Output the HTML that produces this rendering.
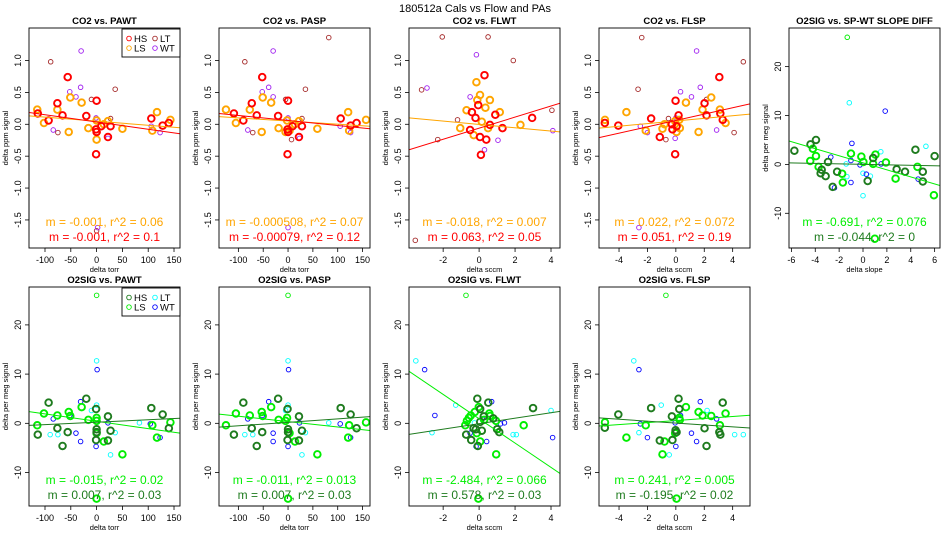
<!DOCTYPE html>
<html><head><meta charset="utf-8">
<style>
html,body{margin:0;padding:0;background:#fff;}
svg{display:block;font-family:"Liberation Sans",sans-serif;}
</style></head>
<body>
<svg id="chart" width="950" height="550" viewBox="0 0 950 550" xmlns="http://www.w3.org/2000/svg">
<text x="475" y="12" text-anchor="middle" font-size="11">180512a   Cals vs Flow and PAs</text>
</svg>
<script>
// ---- Panel 1: CO2 vs PAWT ----
const p1HSx=[-114,-93,-76,-66,-56,-20,-1,0,-1,9,22,27,106,128,140,0];
const p1HSy=[0.17,0.06,0.33,0.14,0.74,0.13,-0.08,0.37,-0.47,-0.03,-0.2,-0.03,0.09,-0.02,0.02,-0.12];
const p1LSx=[-115,-102,-76,-54,-51,-29,-16,0,0,14,22,50,108,117,143,0];
const p1LSy=[0.23,0.02,0.23,-0.12,0.42,0.34,-0.06,0.06,-0.12,0,0.05,-0.07,-0.1,0.19,0.07,-0.24];
const p1LTx=[-89,-75,-10,36,27,0];
const p1LTy=[0.98,-0.13,0.39,0.55,0.09,-1.67];
const p1WTx=[-30,-52,-31,-40,-84,-1,22,106,123,2];
const p1WTy=[1.15,0.51,0.58,0.43,-0.09,0.1,-0.22,-0.03,-0.13,-1.62];
const p1Fit1=[0.049,-0.00064];
const p1Fit2=[0.036,-0.00114];
// ---- Panel 2: CO2 vs PASP ----
const p2HSx=[-109,-90,-73,-63,-52,-20,-1,0,-1,9,22,28,106,126,138,0];
const p2HSy=[0.17,0.06,0.33,0.14,0.74,0.13,-0.08,0.37,-0.47,-0.03,-0.2,-0.03,0.09,-0.02,0.02,-0.12];
const p2LSx=[-125,-105,-77,-53,-51,-34,-19,-2,-5,14,22,59,123,121,157,3];
const p2LSy=[0.23,0.02,0.23,-0.12,0.42,0.34,-0.06,0.06,-0.12,0,0.05,-0.07,-0.1,0.19,0.07,-0.1];
const p2LTx=[-87,-71,-5,35,28,82,7];
const p2LTy=[0.98,-0.13,0.39,0.55,0.09,1.36,-0.24];
const p2WTx=[-30,-52,-39,-30,-81,0,23,105,126,0];
const p2WTy=[1.15,0.51,0.58,0.43,-0.09,0.1,-0.22,-0.03,-0.13,-1.62];
const p2Fit1=[0.051,-0.000493];
const p2Fit2=[0.06,-0.00079];
// ---- Panel 3: CO2 vs FLWT ----
const p3HSx=[0.3,-0.05,-0.2,0.1,-0.5,0.6,0.9,0.4,2.95,1.3,-0.4,0.05];
const p3HSy=[0.77,0.3,0.1,-0.48,-0.09,-0.01,0.15,-0.24,0.1,-0.06,0.19,-0.2];
const p3LSx=[-0.15,0.05,-0.1,-0.7,0.35,0.15,0.5,-0.3,1.15,2.3,-1.05,0.6];
const p3LSy=[0.66,0.46,0.38,0.22,0.26,0.04,-0.06,-0.17,0.19,-0.01,-0.06,0.38];
const p3LTx=[-2.05,0.5,1.9,-3.2,-1.2,4.05,-2.3,-3.55];
const p3LTy=[1.37,1.37,1.0,0.54,0.07,0.22,-0.24,-1.82];
const p3WTx=[-2.9,-0.5,4.1,1.05,-0.15,0.3];
const p3WTy=[0.57,0.43,-0.1,-0.25,1.09,-0.4];
const p3Fit1=[-0.002,-0.0262];
const p3Fit2=[-0.061,0.0869];
// ---- Panel 4: CO2 vs FLSP ----
const p4HSx=[-5.0,-4.05,-1.74,-1.13,-0.28,-0.24,-0.02,-0.05,0.19,2.02,2.16,3.06,3.13,3.3,0.05];
const p4HSy=[0.02,-0.02,0.09,-0.2,0,-0.08,0.37,-0.47,0.14,0.33,0.14,0.74,0.17,0.07,-0.03];
const p4LSx=[-4.99,-3.48,-2.12,-0.94,-0.8,-0.05,0.05,0.28,0.71,1.6,1.88,2.49,3.1,3.5,0.24];
const p4LSy=[0.07,0.19,-0.1,-0.07,0,0.05,-0.12,-0.06,0.34,-0.12,0.23,0.42,0.23,0.02,0.07];
const p4LTx=[-2.4,-2.66,-0.52,2.16,4.1,4.75,-0.7];
const p4LTy=[1.36,0.55,0.09,0.39,-0.13,0.98,-0.24];
const p4WTx=[1.46,0.33,1.72,1.1,-2.5,-2.0,0,-0.05,2.87,-2.6];
const p4WTy=[1.15,0.51,0.58,0.43,-0.03,-0.13,0.1,-0.22,-0.09,-1.62];
const p4Fit1=[0.052,0.0207];
const p4Fit2=[0.06,0.0499];
// ---- Panel 5: O2SIG vs SP-WT slope diff ----
const p5HSx=[-5.75,-4.4,-3.94,-3.55,-3.46,-3.13,-2.93,-2.54,-2.17,0.39,0.85,2.82,3.52,4.39,5.01,5.01,6.0];
const p5HSy=[2.8,4.1,5.0,-1.8,-1.1,-2.4,0.5,-4.6,-1.5,-3.4,1.3,-1.0,-1.5,3.0,-1.5,-3.5,1.7];
const p5LSx=[-4.42,-4.2,-3.94,-3.72,-1.75,-1.69,-1.01,-0.14,0.03,0.85,1.04,1.92,2.73,4.56,5.94,0.99];
const p5LSy=[0.7,3.2,1.7,-0.5,-1.9,-3.7,2.2,1.6,0.5,0.1,2.0,0.4,-2.9,-0.5,-6.3,-15.2];
const p5LSthinX=[-1.32];
const p5LSthinY=[26];
const p5LTx=[-1.15,-1.41,-1.35,0,0,0.62,1.49,5.27];
const p5LTy=[12.6,0.1,-2.5,-1.8,-6.4,-2.4,2.6,3.7];
const p5WTx=[1.86,-0.93,-2.7,-1.01,-1.01,-0.25,0.28,1.52,4.62,-2.39];
const p5WTy=[10.9,4.3,1.5,0.8,-3.7,-0.1,-2.0,0.1,-3.0,-4.8];
const p5Fit1=[0.326,-0.7216];
const p5Fit2=[0.007,-0.0473];
// ---- Panel 6: O2SIG vs PAWT ----
const p6HSx=[-114,-93,-76,-66,-56,-20,-1,0,-1,22,22,27,106,128,140,0];
const p6HSy=[-2.3,4.2,-1.0,-4.6,-1.8,5.0,2.9,-1.2,-3.4,1.4,-3.5,-1.5,3.1,1.8,-1.0,-1.8];
const p6LSx=[-115,-102,-76,-54,-51,-29,-16,0,0,14,50,108,117,143,0,0];
const p6LSy=[-0.4,2.0,1.6,2.3,1.5,3.3,0.7,1.1,0.5,-3.7,-6.3,-0.4,-2.9,0.2,-15.3,-2.0];
const p6LSthinX=[0];
const p6LSthinY=[26];
const p6LTx=[0,-90,-75,-10,36,27,83,0];
const p6LTy=[12.7,-2.3,-2.3,2.6,-1.9,-6.4,0.1,3.7];
const p6WTx=[1,-52,-31,-40,-84,-1,22,104,123,-31];
const p6WTy=[10.9,1.6,4.4,-2,0.9,-4.7,0.1,-0.1,-2.9,-3.7];
const p6Fit1=[0.425,-0.015];
const p6Fit2=[0.225,0.005];
// ---- Panel 7: O2SIG vs PASP ----
const p7HSx=[-109,-90,-73,-63,-52,-20,-1,0,-1,22,22,28,106,126,138,0];
const p7HSy=[-2.3,4.2,-1.0,-4.6,-1.8,5.0,2.9,-1.2,-3.4,1.4,-3.5,-1.5,3.1,1.8,-1.0,-1.8];
const p7LSx=[-125,-105,-77,-53,-51,-34,-19,-2,-5,14,59,123,121,157,0,3];
const p7LSy=[-0.4,2.0,1.6,2.3,1.5,3.3,0.7,1.1,0.5,-3.7,-6.3,-0.4,-2.9,0.2,-15.3,-2.0];
const p7LSthinX=[0];
const p7LSthinY=[26];
const p7LTx=[0,-87,-71,-5,35,28,82,0];
const p7LTy=[12.7,-2.3,-2.3,2.6,-1.9,-6.4,0.1,3.7];
const p7WTx=[1,-52,-39,-30,-81,0,23,105,126,-30];
const p7WTy=[10.9,1.6,4.4,-2,0.9,-4.7,0.1,-0.1,-2.9,-3.7];
const p7Fit1=[0.35,-0.011];
const p7Fit2=[0.2,0.007];
// ---- Panel 8: O2SIG vs FLWT ----
const p8HSx=[-0.1,3.0,0.51,0.06,-0.72,-0.44,-0.18,0.15,0.06,0.79,1.0,1.12,-0.07,-0.31,0.26];
const p8HSy=[5.0,3.1,4.2,2.9,-2.3,-3.4,-1.2,-1.5,0.3,1.0,-1.2,-1.8,-4.6,-1.0,1.4];
const p8LSx=[-0.04,0.95,2.48,0.57,-0.02,-0.24,-0.46,-0.57,-0.68,-0.77,-0.13,0.06,0.28,0.61,0.94];
const p8LSy=[-15.3,-6.3,-0.4,2.0,3.3,2.3,1.6,1.1,0.5,-0.4,-2.0,-3.7,0.7,1.5,0.5];
const p8LSthinX=[-0.73];
const p8LSthinY=[26];
const p8LTx=[-3.52,-2.62,-1.3,1.89,2.07,4.0,-0.26];
const p8LTy=[12.7,-1.9,3.7,-2.3,-2.3,2.6,0.1];
const p8WTx=[-3.03,-2.46,0.7,-0.17,0.42,1.19,1.41,4.09,-0.5,0.17];
const p8WTy=[10.9,1.6,4.4,-4.7,-3.7,-0.1,0.1,-2.9,-2,0.9];
const p8Fit1=[0.93,-2.473];
const p8Fit2=[-0.075,0.555];
// ---- Panel 9: O2SIG vs FLSP ----
const p9HSx=[-5.0,-4.05,-1.74,-1.13,-0.28,-0.24,-0.02,0.19,0.24,2.02,2.16,3.06,3.13,3.3,0.05];
const p9HSy=[-0.9,1.8,3.1,-3.5,1.4,-3.4,-1.4,5.0,2.9,-1.0,-4.6,-1.8,-2.3,4.2,-1.8];
const p9LSx=[-4.99,-3.48,-2.12,-0.94,-0.8,-0.05,0.05,0.28,0.71,1.6,1.88,2.49,3.1,3.5,0.24];
const p9LSy=[0.2,-2.9,-0.4,-6.3,-3.7,-2.0,-15.3,0.7,3.3,2.3,1.6,1.5,-0.4,2.0,1.1];
const p9LSthinX=[-0.7];
const p9LSthinY=[26];
const p9LTx=[-2.96,-2.6,-1.03,-0.47,2.2,4.14,4.75];
const p9LTy=[12.7,-1.9,3.7,-6.4,2.6,-2.3,-2.3];
const p9WTx=[-2.6,-2.5,-2.0,-0.05,0,0.33,1.1,1.46,1.72,2.87];
const p9WTy=[10.9,-0.1,-2.9,0.1,-4.7,1.6,-2.0,-3.7,4.4,0.9];
const p9Fit1=[0.559,0.205];
const p9Fit2=[0.056,-0.193];

const torrTicks=[-100,-50,0,50,100,150];
const co2Ticks=[-1.5,-1.0,-0.5,0.0,0.5,1.0];
const o2Ticks=[-10,0,10,20];
const flwtTicks=[-2,0,2,4];
const flspTicks=[-4,-2,0,2,4];
const slopeTicks=[-6,-4,-2,0,2,4,6];
const co2Legend=["HS","LS","LT","WT"];
const o2Legend=["HS","LS","LT","WT"];

const C={red:"#ff0000",orange:"#ffa500",brown:"#a52a2a",purple:"#a020f0",dg:"#1e7b1e",g:"#00ee00",cyan:"#00ffff",blue:"#0000ff"};
const NS="http://www.w3.org/2000/svg";
const svg=document.getElementById('chart');
function mk(tag,attrs,parent){const e=document.createElementNS(NS,tag);for(const k in attrs)e.setAttribute(k,attrs[k]);(parent||svg).appendChild(e);return e;}

const panels=[
 {id:"co2-pawt",L:29,T:28,W:151,H:220,xr:[-131,161.6],yr:[-1.94,1.51],xt:torrTicks,yt:co2Ticks,title:"CO2 vs. PAWT",xl:"delta torr",yl:"delta ppm signal",
  s:[[p1LTx,p1LTy,C.brown,0],[p1WTx,p1WTy,C.purple,0],[p1LSx,p1LSy,C.orange,1],[p1HSx,p1HSy,C.red,1]],f:[[p1Fit1,C.orange],[p1Fit2,C.red]],
  txt:[["m = -0.001, r^2 = 0.06",C.orange],["m = -0.001, r^2 = 0.1",C.red]],leg:[co2Legend,[C.red,C.orange,C.brown,C.purple]]},
 {id:"co2-pasp",L:219,T:28,W:151,H:220,xr:[-139,165],yr:[-1.94,1.51],xt:torrTicks,yt:co2Ticks,title:"CO2 vs. PASP",xl:"delta torr",yl:"delta ppm signal",
  s:[[p2LTx,p2LTy,C.brown,0],[p2WTx,p2WTy,C.purple,0],[p2LSx,p2LSy,C.orange,1],[p2HSx,p2HSy,C.red,1]],f:[[p2Fit1,C.orange],[p2Fit2,C.red]],
  txt:[["m = -0.000508, r^2 = 0.07",C.orange],["m = -0.00079, r^2 = 0.12",C.red]]},
 {id:"co2-flwt",L:409,T:28,W:151,H:220,xr:[-3.9,4.5],yr:[-1.94,1.51],xt:flwtTicks,yt:co2Ticks,title:"CO2 vs. FLWT",xl:"delta sccm",yl:"delta ppm signal",
  s:[[p3LTx,p3LTy,C.brown,0],[p3WTx,p3WTy,C.purple,0],[p3LSx,p3LSy,C.orange,1],[p3HSx,p3HSy,C.red,1]],f:[[p3Fit1,C.orange],[p3Fit2,C.red]],
  txt:[["m = -0.018, r^2 = 0.007",C.orange],["m = 0.063, r^2 = 0.05",C.red]]},
 {id:"co2-flsp",L:599,T:28,W:151,H:220,xr:[-5.41,5.22],yr:[-1.94,1.51],xt:flspTicks,yt:co2Ticks,title:"CO2 vs. FLSP",xl:"delta sccm",yl:"delta ppm signal",
  s:[[p4LTx,p4LTy,C.brown,0],[p4WTx,p4WTy,C.purple,0],[p4LSx,p4LSy,C.orange,1],[p4HSx,p4HSy,C.red,1]],f:[[p4Fit1,C.orange],[p4Fit2,C.red]],
  txt:[["m = 0.022, r^2 = 0.072",C.orange],["m = 0.051, r^2 = 0.19",C.red]]},
 {id:"o2-slope",L:789,T:28,W:151,H:220,xr:[-6.2,6.45],yr:[-17.1,27.9],xt:slopeTicks,yt:o2Ticks,title:"O2SIG vs. SP-WT SLOPE DIFF",xl:"delta slope",yl:"delta per meg signal",
  s:[[p5LTx,p5LTy,C.cyan,0],[p5WTx,p5WTy,C.blue,0],[p5LSthinX,p5LSthinY,C.g,0],[p5LSx,p5LSy,C.g,1],[p5HSx,p5HSy,C.dg,1]],f:[[p5Fit1,C.g],[p5Fit2,C.dg]],
  txt:[["m = -0.691, r^2 = 0.076",C.g],["m = -0.044, r^2 = 0",C.dg]]},
 {id:"o2-pawt",L:29,T:287,W:151,H:219,xr:[-131,161.6],yr:[-16.8,27.7],xt:torrTicks,yt:o2Ticks,title:"O2SIG vs. PAWT",xl:"delta torr",yl:"delta per meg signal",
  s:[[p6LTx,p6LTy,C.cyan,0],[p6WTx,p6WTy,C.blue,0],[p6LSthinX,p6LSthinY,C.g,0],[p6LSx,p6LSy,C.g,1],[p6HSx,p6HSy,C.dg,1]],f:[[p6Fit1,C.g],[p6Fit2,C.dg]],
  txt:[["m = -0.015, r^2 = 0.02",C.g],["m = 0.007, r^2 = 0.03",C.dg]],leg:[o2Legend,[C.dg,C.g,C.cyan,C.blue]]},
 {id:"o2-pasp",L:219,T:287,W:151,H:219,xr:[-139,165],yr:[-16.8,27.7],xt:torrTicks,yt:o2Ticks,title:"O2SIG vs. PASP",xl:"delta torr",yl:"delta per meg signal",
  s:[[p7LTx,p7LTy,C.cyan,0],[p7WTx,p7WTy,C.blue,0],[p7LSthinX,p7LSthinY,C.g,0],[p7LSx,p7LSy,C.g,1],[p7HSx,p7HSy,C.dg,1]],f:[[p7Fit1,C.g],[p7Fit2,C.dg]],
  txt:[["m = -0.011, r^2 = 0.013",C.g],["m = 0.007, r^2 = 0.03",C.dg]]},
 {id:"o2-flwt",L:409,T:287,W:151,H:219,xr:[-3.9,4.5],yr:[-16.8,27.7],xt:flwtTicks,yt:o2Ticks,title:"O2SIG vs. FLWT",xl:"delta sccm",yl:"delta per meg signal",
  s:[[p8LTx,p8LTy,C.cyan,0],[p8WTx,p8WTy,C.blue,0],[p8LSthinX,p8LSthinY,C.g,0],[p8LSx,p8LSy,C.g,1],[p8HSx,p8HSy,C.dg,1]],f:[[p8Fit1,C.g],[p8Fit2,C.dg]],
  txt:[["m = -2.484, r^2 = 0.066",C.g],["m = 0.578, r^2 = 0.03",C.dg]]},
 {id:"o2-flsp",L:599,T:287,W:151,H:219,xr:[-5.41,5.22],yr:[-16.8,27.7],xt:flspTicks,yt:o2Ticks,title:"O2SIG vs. FLSP",xl:"delta sccm",yl:"delta per meg signal",
  s:[[p9LTx,p9LTy,C.cyan,0],[p9WTx,p9WTy,C.blue,0],[p9LSthinX,p9LSthinY,C.g,0],[p9LSx,p9LSy,C.g,1],[p9HSx,p9HSy,C.dg,1]],f:[[p9Fit1,C.g],[p9Fit2,C.dg]],
  txt:[["m = 0.241, r^2 = 0.005",C.g],["m = -0.195, r^2 = 0.02",C.dg]]}
];

panels.forEach((p,pi)=>{
  const g=mk('g',{});
  
  
  const sx=v=>p.L+(v-p.xr[0])/(p.xr[1]-p.xr[0])*p.W;
  const sy=v=>p.T+p.H-(v-p.yr[0])/(p.yr[1]-p.yr[0])*p.H;
  const cp=mk('clipPath',{id:'clip'+pi},g);
  mk('rect',{x:p.L,y:p.T,width:p.W,height:p.H},cp);
  // title
  const t=mk('text',{x:p.L+p.W/2,y:p.T-4,'text-anchor':'middle','font-size':'9.5','font-weight':'bold'},g);
  t.textContent=p.title;
  
  
  // x axis
  const xa=mk('g',{stroke:'#000','stroke-width':'0.8'},g);
  
  
  const bY=p.T+p.H;
  mk('line',{x1:sx(p.xt[0]),x2:sx(p.xt[p.xt.length-1]),y1:bY,y2:bY},xa);
  p.xt.forEach(v=>{
    mk('line',{x1:sx(v),x2:sx(v),y1:bY,y2:bY+4},xa);
    const tl=mk('text',{x:sx(v),y:bY+15,'text-anchor':'middle','font-size':'9',fill:'#000',stroke:'none'},g);
    tl.textContent=String(v);
    
    
  });
  const xl=mk('text',{x:p.L+p.W/2,y:bY+24,'text-anchor':'middle','font-size':'7.5'},g);
  xl.textContent=p.xl;
  
  
  // y axis
  const ya=mk('g',{stroke:'#000','stroke-width':'0.8'},g);
  
  
  mk('line',{x1:p.L,x2:p.L,y1:sy(p.yt[0]),y2:sy(p.yt[p.yt.length-1])},ya);
  p.yt.forEach(v=>{
    mk('line',{x1:p.L-4,x2:p.L,y1:sy(v),y2:sy(v)},ya);
    const lab=(Math.abs(p.yr[1])<5)?v.toFixed(1):String(v);
    const tl=mk('text',{x:p.L-8,y:sy(v),'text-anchor':'middle','font-size':'9',transform:`rotate(-90 ${p.L-8} ${sy(v)})`},g);
    tl.textContent=lab;
    
    
  });
  const yx=p.L-21, yy=p.T+p.H/2;
  const yl=mk('text',{x:yx,y:yy,'text-anchor':'middle','font-size':'7.5',transform:`rotate(-90 ${yx} ${yy})`},g);
  yl.textContent=p.yl;
  
  
  // points
  p.s.forEach(s=>{
    const sg=mk('g',{fill:'none',stroke:s[2],'stroke-width':s[3]?1.9:0.9,'clip-path':`url(#clip${pi})`},g);
    
    
    s[0].forEach((xv,i)=>{
      const c=mk('circle',{cx:sx(xv),cy:sy(s[1][i]),r:s[3]?3.3:2.3},sg);
      
      
    });
  });
  // fit lines
  p.f.forEach(f=>{
    const b=f[0][0],m=f[0][1];
    const ln=mk('line',{x1:sx(p.xr[0]),y1:sy(b+m*p.xr[0]),x2:sx(p.xr[1]),y2:sy(b+m*p.xr[1]),stroke:f[1],'stroke-width':'1','clip-path':`url(#clip${pi})`},g);
    
    
  });
  // annotations
  const cx=p.L+p.W/2;
  const ty=[p.T+p.H-22,p.T+p.H-7];
  p.txt.forEach((tt,i)=>{
    const a=mk('text',{x:cx,y:ty[i],'text-anchor':'middle','font-size':'12',fill:tt[1]},g);
    a.textContent=tt[0];
    
    
  });
  // box
  const bx=mk('rect',{x:p.L,y:p.T,width:p.W,height:p.H,fill:'none',stroke:'#000','stroke-width':'0.9'},g);
  
  
  // legend
  if(p.leg){
    const lg=mk('g',{},g);
    
    
    mk('rect',{x:p.L+p.W-58,y:p.T+1,width:58,height:28,fill:'#fff',stroke:'#000','stroke-width':'0.9'},lg);
    p.leg[0].forEach((nm,i)=>{
      const col=Math.floor(i/2),row=i%2;
      const lx=p.L+p.W-51+col*26, ly=p.T+10.5+row*9.6;
      const e=mk('g',{},lg);
      
      
      mk('circle',{cx:lx,cy:ly,r:2.3,fill:'none',stroke:p.leg[1][i],'stroke-width':'0.9'},e);
      const tx=mk('text',{x:lx+5,y:ly+3.5,'font-size':'9.5'},e);
      tx.textContent=nm;
    });
  }
});
</script>
</body></html>
